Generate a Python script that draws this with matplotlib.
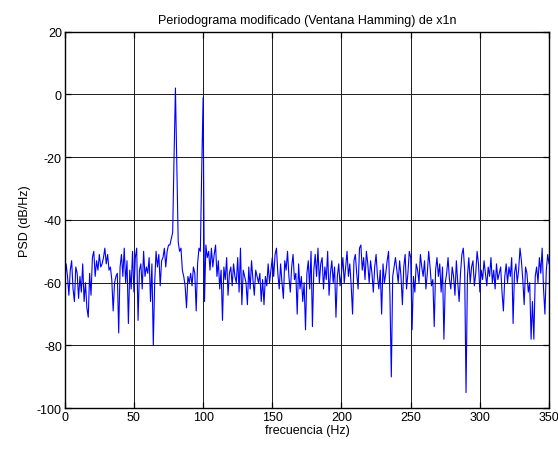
import matplotlib
matplotlib.use("Agg")
import matplotlib.pyplot as plt
import numpy as np

# PSD values (dB/Hz), one per Hz from 0 to 350
psd_db = [
    -60, -54, -58, -64, -56, -53, -62, -66, -55, -57,
    -65, -58, -63, -54, -66, -60, -68, -71, -57, -64,
    -52, -50, -58, -53, -56, -51, -55, -54, -52, -49,
    -54, -51, -56, -55, -59, -69, -60, -58, -57, -76,
    -55, -51, -58, -49, -60, -53, -73, -56, -62, -50,
    -63, -52, -49, -72, -56, -54, -62, -50, -58, -55,
    -57, -52, -66, -54, -80, -60, -50, -55, -51, -61,
    -53, -52, -49, -55, -50, -48, -48, -46, -44, -20,
    2, -22, -47, -50, -49, -56, -58, -61, -68, -58,
    -60, -57, -61, -55, -57, -69, -54, -49, -50, -24,
    -1, -66, -48, -52, -50, -56, -49, -55, -51, -48,
    -58, -53, -62, -56, -72, -55, -59, -52, -64, -57,
    -55, -61, -54, -58, -60, -52, -63, -49, -67, -56,
    -58, -60, -67, -55, -62, -53, -59, -64, -56, -58,
    -60, -57, -66, -59, -67, -58, -61, -54, -60, -56,
    -52, -58, -51, -49, -57, -62, -54, -60, -65, -53,
    -56, -50, -58, -63, -55, -51, -59, -57, -70, -54,
    -62, -58, -66, -60, -75, -57, -53, -62, -50, -74,
    -56, -51, -58, -49, -60, -54, -52, -62, -55, -59,
    -50, -64, -57, -53, -60, -55, -71, -58, -54, -61,
    -57, -52, -60, -55, -50, -58, -54, -61, -70, -53,
    -51, -57, -62, -49, -48, -56, -52, -59, -50, -54,
    -60, -53, -57, -63, -55, -51, -58, -62, -56, -70,
    -54, -60, -57, -53, -50, -64, -90, -58, -55, -52,
    -56, -60, -53, -58, -67, -55, -51, -62, -57, -50,
    -52, -75, -58, -63, -54, -56, -60, -51, -55, -58,
    -53, -62, -57, -50, -55, -61, -59, -74, -56, -52,
    -58, -54, -63, -55, -78, -60, -57, -52, -59, -62,
    -55, -58, -64, -53, -60, -66, -57, -51, -49, -56,
    -95, -58, -52, -60, -55, -53, -61, -57, -50, -54,
    -63, -56, -59, -53, -57, -61, -55, -58, -52, -60,
    -56, -62, -54, -59, -57, -55, -63, -69, -58, -54,
    -60, -55, -58, -52, -73, -57, -54, -60, -56, -49,
    -53, -59, -67, -55, -57, -63, -60, -78, -66, -78,
    -58, -55, -60, -52, -57, -49, -62, -70, -56, -51,
    -54,
]
freq_hz = list(range(len(psd_db)))

x_ticks = [0, 50, 100, 150, 200, 250, 300, 350]
y_ticks = [-100, -80, -60, -40, -20, 0, 20]

plt.rcParams['font.family'] = ['Liberation Sans', 'DejaVu Sans']
plt.rcParams['font.size'] = 9
plt.rcParams['axes.unicode_minus'] = False

fig = plt.figure(figsize=(5.58, 4.52), dpi=100)
ax = fig.add_axes([0.116, 0.0945, 0.868, 0.8335])

ax.plot(freq_hz, psd_db, color='#0000ff', linewidth=0.8)

ax.set_xlim(0, 350)
ax.set_ylim(-100, 20)
ax.set_xticks(x_ticks)
ax.set_yticks(y_ticks)
ax.grid(True, color='#1a1a1a', linewidth=0.7)
ax.tick_params(direction='in', top=True, right=True, length=4, width=0.9, pad=2)
for s in ax.spines.values():
    s.set_linewidth(1.0)

ax.set_title('Periodograma modificado (Ventana Hamming) de x1n', fontsize=9, pad=6)
ax.set_xlabel('frecuencia (Hz)', labelpad=1)
ax.set_ylabel('PSD (dB/Hz)', labelpad=4)

fig.savefig('out.png', dpi=100, facecolor='white')
